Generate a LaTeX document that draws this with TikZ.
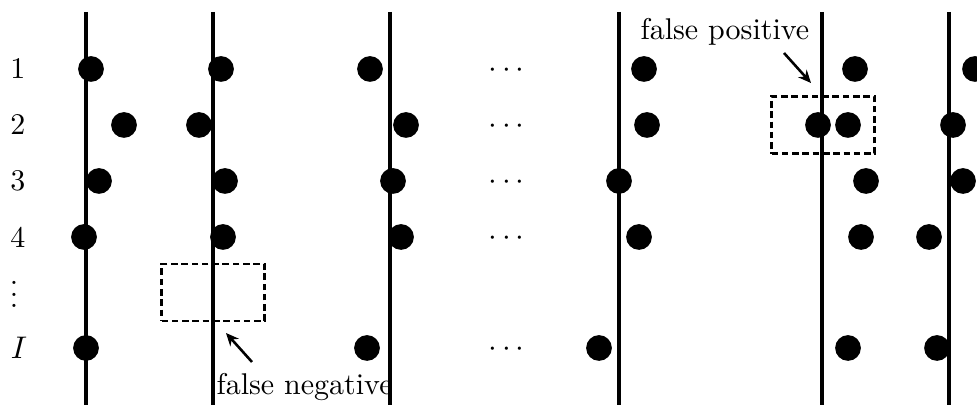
\documentclass[tikz,border=0pt]{standalone}
\usepackage{amsmath}
\usetikzlibrary{arrows.meta, positioning}

\begin{document}
\begin{tikzpicture}[
    x=0.35pt, y=-0.35pt,
    every node/.style={font=\fontsize{10.5}{12.6}\selectfont},
    spike/.style={circle, fill=black, inner sep=0pt, minimum size=9pt},
    unitline/.style={line width=1.1pt},
    marker/.style={draw, line width=0.9pt, dash pattern=on 2.3pt off 1.3pt, minimum width=36pt, minimum height=20pt, inner sep=0pt},
    pointer/.style={line width=0.9pt, -{Stealth[length=4.5pt, width=4pt]}},
    note/.style={inner sep=0pt, anchor=base west},
]
\useasboundingbox (0,0) rectangle (977,405);

% Unit lines
\draw[unitline] (86,12) coordinate (atop) -- (86,405) coordinate (abot);
\draw[unitline] (213,12) coordinate (btop) -- (213,405) coordinate (bbot);
\draw[unitline] (390,12) coordinate (ctop) -- (390,405) coordinate (cbot);
\draw[unitline] (619,12) coordinate (dtop) -- (619,405) coordinate (dbot);
\draw[unitline] (822,12) coordinate (etop) -- (822,405) coordinate (ebot);
\draw[unitline] (949,12) coordinate (ftop) -- (949,405) coordinate (fbot);

% Row labels
\node (r1) at (18,69) {1};
\node (r2) at (18,125) {2};
\node (r3) at (18,181) {3};
\node (r4) at (18,237) {4};
\node (rv) at (14,286) {$\vdots$};
\node (rI) at (19,348) {$I$};

% Spikes, unit a
\node[spike] (a1) at (91,69) {};
\node[spike] (a2) at (124,125) {};
\node[spike] (a3) at (99,181) {};
\node[spike] (a4) at (84,237) {};
\node[spike] (aI) at (86,348) {};

% Spikes, unit b
\node[spike] (b1) at (221,69) {};
\node[spike] (b2) at (199,125) {};
\node[spike] (b3) at (225,181) {};
\node[spike] (b4) at (223,237) {};

% Spikes, unit c
\node[spike] (c1) at (370,69) {};
\node[spike] (c2) at (406,125) {};
\node[spike] (c3) at (393,181) {};
\node[spike] (c4) at (401,237) {};
\node[spike] (cI) at (367,348) {};

% Gap
\node (g1) at (509,71) {$\cdots$};
\node (g2) at (509,127) {$\cdots$};
\node (g3) at (509,183) {$\cdots$};
\node (g4) at (509,239) {$\cdots$};
\node (gI) at (509,350) {$\cdots$};

% Spikes, unit d
\node[spike] (d1) at (644,69) {};
\node[spike] (d2) at (647,125) {};
\node[spike] (d3) at (619,181) {};
\node[spike] (d4) at (639,237) {};
\node[spike] (dI) at (599,348) {};

% Spikes, unit e
\node[spike] (e1) at (855,69) {};
\node[spike] (e2) at (818,125) {};
\node[spike] (e2b) at (848,125) {};
\node[spike] (e3) at (866,181) {};
\node[spike] (e4) at (861,237) {};
\node[spike] (eI) at (848,348) {};

% Spikes, unit f
\node[spike] (f1) at (975,69) {};
\node[spike] (f2) at (953,125) {};
\node[spike] (f3) at (963,181) {};
\node[spike] (f4) at (929,237) {};
\node[spike] (fI) at (937,348) {};

% Errors
\node[marker] (fnbox) at (213,292.5) {};
\node[marker] (fpbox) at (823,125) {};

\node[note] (fntext) at (216,395) {false negative};
\node[note] (fptext) at (640,40) {false positive};

\coordinate (fntail) at (252,362);
\coordinate (fntip) at (226,333);
\coordinate (fptail) at (784,53);
\coordinate (fptip) at (811,83);
\draw[pointer] (fntail) -- (fntip);
\draw[pointer] (fptail) -- (fptip);

\end{tikzpicture}
\end{document}
